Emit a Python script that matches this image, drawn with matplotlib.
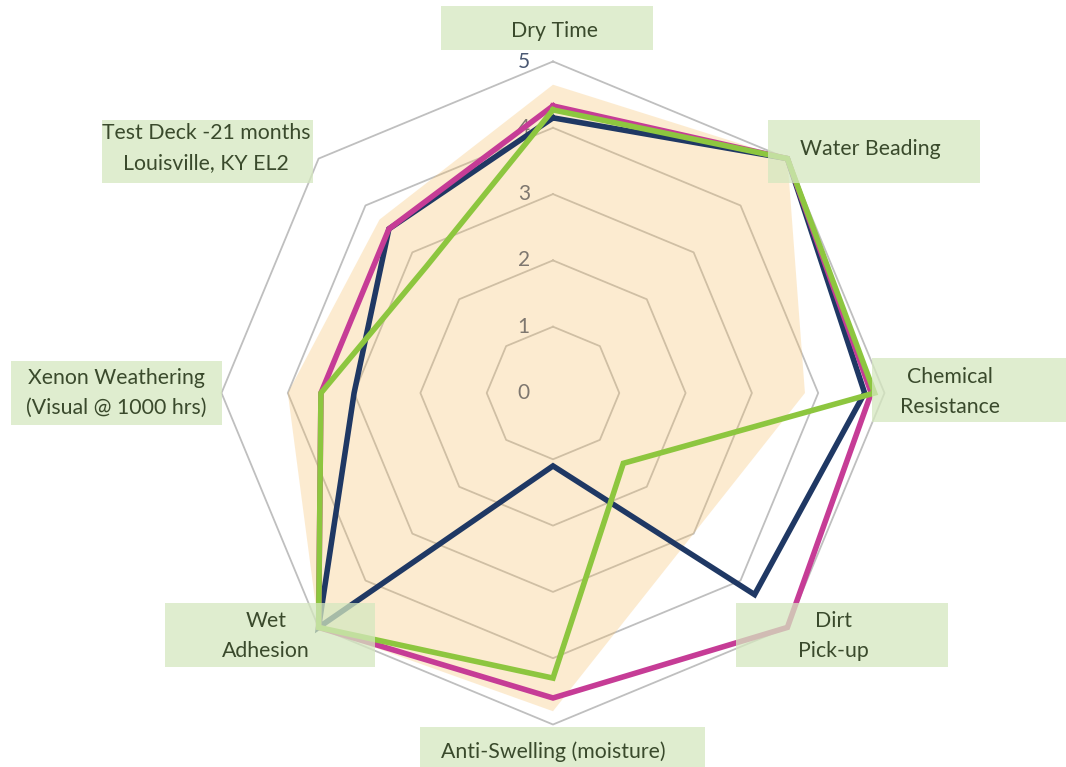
import numpy as np
import matplotlib
matplotlib.use('Agg')
import matplotlib.pyplot as plt
from matplotlib.patches import Rectangle

# categories clockwise from the top
categories = ['Dry Time', 'Water Beading', 'Chemical\nResistance', 'Dirt\nPick-up',
              'Anti-Swelling (moisture)', 'Wet\nAdhesion',
              'Xenon Weathering\n(Visual @ 1000 hrs)', 'Test Deck -21 months\nLouisville, KY EL2']

navy_vals = [4.15, 5, 4.7, 4.3, 1.1, 5, 3.0, 3.5]
pink_vals = [4.33, 5, 4.8, 5, 4.6, 5, 3.5, 3.5]
green_vals = [4.27, 5, 4.85, 1.5, 4.3, 5, 3.5, 2.7]
target_vals = [4.65, 5, 3.8, 3.0, 4.8, 5, 4.0, 3.7]

ticks = [0, 1, 2, 3, 4, 5]

# label boxes in pixels (left, top, right, bottom) and text centre
label_boxes = [(441, 6, 653, 50), (768, 120, 980, 183), (872, 358, 1066, 422),
               (736, 603, 948, 667), (420, 727, 705, 767), (165, 603, 375, 667),
               (11, 361, 222, 425), (102, 120, 313, 183)]
label_centres = [(554, 31), (870, 149), (950, 392), (833, 636), (553, 752),
                 (266, 636), (116, 393), (206, 148)]

W, H = 1066, 767
CX, CY, UNIT = 553, 393, 66.3

def px(x, y):
    # pixel position -> data coords
    return (x - CX) / UNIT, (CY - y) / UNIT

n = len(categories)
angles = np.pi / 2 - np.arange(n) * 2 * np.pi / n

def to_xy(vals):
    v = np.array(vals + vals[:1], dtype=float)
    a = np.concatenate([angles, angles[:1]])
    return v * np.cos(a), v * np.sin(a)

fig = plt.figure(figsize=(W / 100, H / 100), dpi=100)
ax = fig.add_axes([0, 0, 1, 1])
x0, y0 = px(0, 0)
x1, y1 = px(W, H)
ax.set_xlim(x0, x1)
ax.set_ylim(y1, y0)
ax.set_aspect('equal')
ax.axis('off')

# rings
for t in ticks[1:]:
    rx, ry = to_xy([t] * n)
    ax.plot(rx, ry, color='#BFBFBF', lw=1.3, zorder=1)

# tick labels
for t in ticks:
    ax.text(-0.44, t, str(t), ha='center', va='center', fontsize=15,
            color='#4A5873', family='Lato', zorder=2)

# shaded area
fx, fy = to_xy(target_vals)
ax.fill(fx, fy, color='#F7BF66', alpha=0.3, lw=0, zorder=3)

for vals, col in [(navy_vals, '#1F3864'), (pink_vals, '#C63C96'), (green_vals, '#8DC63F')]:
    lx, ly = to_xy(vals)
    ax.plot(lx, ly, color=col, lw=4, solid_joinstyle='miter', zorder=4)

for lab, box, c in zip(categories, label_boxes, label_centres):
    bx0, by0 = px(box[0], box[3])
    bx1, by1 = px(box[2], box[1])
    ax.add_patch(Rectangle((bx0, by0), bx1 - bx0, by1 - by0, facecolor='#D5E8BF',
                           alpha=0.75, lw=0, zorder=5))
    tx, ty = px(*c)
    ax.text(tx, ty, lab, ha='center', va='center', fontsize=15.3, color='#3A4A2C',
            family='Lato', linespacing=1.62, zorder=6)

plt.savefig('out.png', dpi=100)
